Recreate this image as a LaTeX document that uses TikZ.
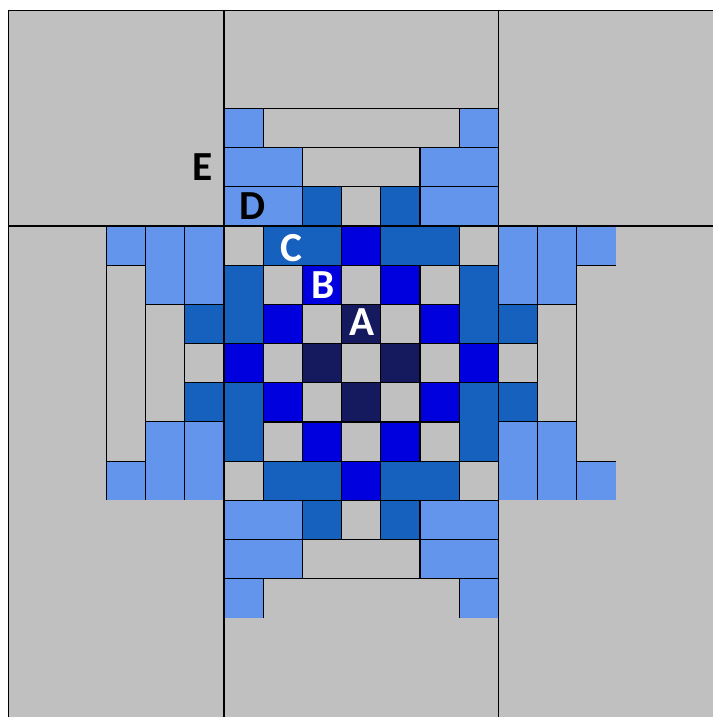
\documentclass[tikz,border=0pt]{standalone}
\usepackage{fontspec}
\usepackage{tikz}
\newfontfamily\lblfont{Carlito}
\definecolor{quiltGray}{RGB}{192,192,192}
\definecolor{paleBlue}{RGB}{100,149,237}
\definecolor{midBlue}{RGB}{22,96,190}
\definecolor{brightBlue}{RGB}{0,0,222}
\definecolor{navyBlue}{RGB}{21,26,95}

\begin{document}
\begin{tikzpicture}[yscale=-1,
    seam/.style={draw=black, line width=0.9pt},
    lbl/.style={font=\lblfont\bfseries\fontsize{30}{30}\selectfont, inner sep=0pt}]
      \useasboundingbox (-5.714,-5.765) rectangle (12.474,12.526);
      \fill[white] (-5.714,-5.765) rectangle (12.474,12.526);
      % Background and outer frame
      \fill[quiltGray] (-5.5,-5.5) rectangle (12.474,12.526);

      % Gray patches with seams
      \foreach \px/\py in {0/0,6/0,1/1,3/1,5/1,2/2,4/2,1/3,3/3,5/3,2/4,4/4,1/5,3/5,5/5,0/6,6/6,
                           3/-1,3/7,-1/3,7/3}
        \filldraw[seam, fill=quiltGray] (\px,\py) rectangle ++(1,1);
      \foreach \px/\py/\pw/\ph in {1/-3/5/1,2/-2/3/1,2/8/3/1,-3/1/1/5,-2/2/1/3,8/2/1/3}
        \filldraw[seam, fill=quiltGray] (\px,\py) rectangle ++(\pw,\ph);

      % Middle blue
      \foreach \px/\py/\pw/\ph in {1/0/2/1,4/0/2/1,0/1/1/2,6/1/1/2,0/4/1/2,6/4/1/2,1/6/2/1,4/6/2/1,
                                   2/-1/1/1,4/-1/1/1,2/7/1/1,4/7/1/1,-1/2/1/1,-1/4/1/1,7/2/1/1,7/4/1/1}
        \filldraw[seam, fill=midBlue] (\px,\py) rectangle ++(\pw,\ph);

      % Bright blue ring
      \foreach \px/\py in {3/0,2/1,4/1,1/2,5/2,0/3,6/3,1/4,5/4,2/5,4/5,3/6}
        \filldraw[seam, fill=brightBlue] (\px,\py) rectangle ++(1,1);

      % Centre diamond
      \foreach \px/\py in {3/2,2/3,4/3,3/4}
        \filldraw[seam, fill=navyBlue] (\px,\py) rectangle ++(1,1);

      % Pale blue strips
      \foreach \px/\py/\pw/\ph in {0/-3/1/1,6/-3/1/1,0/-2/2/1,0/-1/2/1,5/-2/2/1,5/-1/2/1,
                                   0/7/2/1,0/8/2/1,5/7/2/1,5/8/2/1,
                                   -3/0/1/1,-2/0/1/2,-1/0/1/2,7/0/1/2,8/0/1/2}
        \filldraw[seam, fill=paleBlue] (\px,\py) rectangle ++(\pw,\ph);
      \foreach \px/\py/\pw/\ph in {0/9/1/1,6/9/1/1,-3/6/1/1,-2/5/1/2,-1/5/1/2,
                                   9/0/1/1,9/6/1/1,7/5/1/2,8/5/1/2}
        \fill[paleBlue] (\px,\py) rectangle ++(\pw,\ph);

      % Open seams at the ends of the arms
      \draw[seam] (1,9) -- (1,10) (6,9) -- (6,10);
      \draw[seam] (-3,6) -- (-3,7) (-2,5) -- (-2,7) (-1,5) -- (-1,7) (-3,6) -- (-2,6);
      \draw[seam] (9,0) -- (9,7) (8,5) -- (8,7) (9,1) -- (10,1) (9,6) -- (10,6);

      % Block seams
      \draw[seam] (0,-5.5) -- (0,12.526);
      \draw[seam] (7,-5.5) -- (7,12.526);
      \draw[seam] (-5.5,0) -- (12.474,0);
      \draw[seam] (-5.5,12.526) -- (-5.5,-5.5) -- (12.474,-5.5);

      \node[lbl, text=white] (lblA) at (3.52,2.45) {A};
      \node[lbl, text=white] (lblB) at (2.53,1.5) {B};
      \node[lbl, text=white] (lblC) at (1.71,0.56) {C};
      \node[lbl] (lblD) at (0.74,-0.51) {D};
      \node[lbl] (lblE) at (-0.54,-1.5) {E};
    \end{tikzpicture}
\end{document}
